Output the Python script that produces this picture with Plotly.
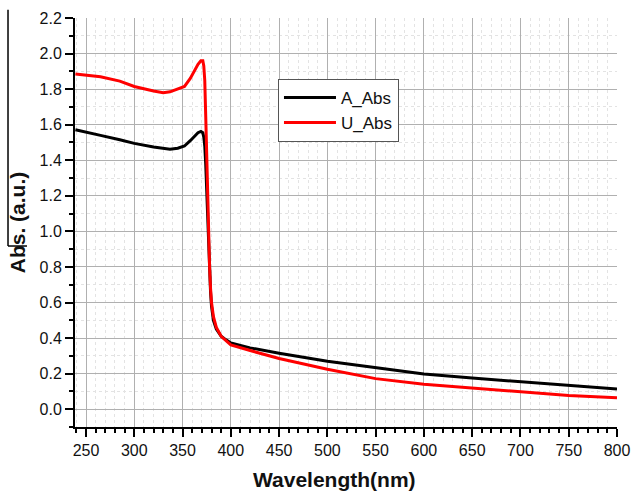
import plotly.graph_objects as go

# Wavelength (nm) and absorbance values
wl_a = [239, 250, 265, 285, 300, 320, 337, 345, 352, 358, 362, 366, 369, 371, 372, 373, 374, 375, 376, 377, 378, 379, 380, 382, 385, 390, 395, 400, 420, 450, 500, 550, 600, 650, 678, 700, 750, 800]
abs_a = [1.572, 1.56, 1.54, 1.515, 1.495, 1.475, 1.462, 1.468, 1.48, 1.51, 1.535, 1.555, 1.562, 1.555, 1.53, 1.48, 1.38, 1.22, 1.05, 0.90, 0.76, 0.66, 0.58, 0.50, 0.45, 0.41, 0.39, 0.372, 0.345, 0.315, 0.27, 0.232, 0.198, 0.175, 0.164, 0.155, 0.133, 0.113]

wl_u = [239, 250, 265, 285, 300, 320, 330, 337, 345, 352, 358, 362, 366, 369, 371, 372, 373, 374, 375, 376, 377, 378, 379, 380, 382, 385, 390, 395, 400, 420, 450, 500, 550, 600, 650, 678, 700, 750, 800]
abs_u = [1.885, 1.88, 1.87, 1.845, 1.815, 1.79, 1.78, 1.785, 1.80, 1.815, 1.86, 1.90, 1.94, 1.96, 1.96, 1.93, 1.85, 1.65, 1.40, 1.15, 0.95, 0.80, 0.68, 0.60, 0.52, 0.46, 0.41, 0.385, 0.362, 0.33, 0.285, 0.225, 0.172, 0.14, 0.12, 0.107, 0.098, 0.077, 0.064]

x_ticks = [250, 300, 350, 400, 450, 500, 550, 600, 650, 700, 750, 800]
y_ticks = [0.0, 0.2, 0.4, 0.6, 0.8, 1.0, 1.2, 1.4, 1.6, 1.8, 2.0, 2.2]

fig = go.Figure()
fig.add_trace(go.Scatter(x=wl_a, y=abs_a, mode="lines", name="A_Abs",
                         line=dict(color="black", width=3)))
fig.add_trace(go.Scatter(x=wl_u, y=abs_u, mode="lines", name="U_Abs",
                         line=dict(color="#ff0000", width=3)))

fig.update_layout(
    width=632, height=491,
    margin=dict(l=75, r=15, t=18, b=64),
    paper_bgcolor="white", plot_bgcolor="white",
    font=dict(family="Liberation Sans, Arial, sans-serif", color="#111", size=16),
    showlegend=True,
    legend=dict(x=0.3745, y=0.851, xanchor="left", yanchor="top",
                bgcolor="white", bordercolor="#555", borderwidth=1,
                font=dict(size=17), tracegroupgap=0, itemwidth=52),
)
fig.update_xaxes(
    range=[238.6, 800], tickvals=x_ticks, ticktext=[str(v) for v in x_ticks],
    automargin=False,
    showline=True, linecolor="black", linewidth=2, mirror=False,
    ticks="outside", ticklen=8, tickwidth=2, tickcolor="black",
    showgrid=True, gridcolor="#b0b0b0", gridwidth=1,
    minor=dict(dtick=10, tick0=250, ticks="outside", ticklen=4, tickwidth=1.5, tickcolor="black",
               showgrid=True, gridcolor="#e3e3e3", griddash="dot", gridwidth=1),
    zeroline=False,
)
fig.update_yaxes(
    range=[-0.1, 2.2], tickvals=y_ticks, ticktext=["%.1f" % v for v in y_ticks],
    automargin=False,
    showline=True, linecolor="black", linewidth=2, mirror=False,
    ticks="outside", ticklen=8, tickwidth=2, tickcolor="black",
    showgrid=True, gridcolor="#b0b0b0", gridwidth=1,
    minor=dict(dtick=0.1, tick0=0, ticks="outside", ticklen=4, tickwidth=1.5, tickcolor="black",
               showgrid=True, gridcolor="#e3e3e3", griddash="dot", gridwidth=1),
    title=dict(text="<b>Abs. (a.u.)</b>", font=dict(size=21), standoff=8),
    zeroline=False,
)

# x-axis title (placed slightly left of centre, as in the reference)
fig.add_annotation(text="<b>Wavelength(nm)</b>", xref="paper", yref="paper",
                   x=0.478, y=-0.129, xanchor="center", yanchor="middle",
                   showarrow=False, font=dict(size=21, color="#111"))

# scan artifact line at left edge of the reference
fig.add_shape(type="line", xref="paper", yref="paper", x0=-0.1236, x1=-0.1236, y0=1.02, y1=0.4425,
              line=dict(color="black", width=1.5))
fig.add_shape(type="line", xref="paper", yref="paper", x0=-0.1236, x1=-0.0886, y0=0.4425, y1=0.4425,
              line=dict(color="black", width=1.5))

fig.write_html("out.html")
